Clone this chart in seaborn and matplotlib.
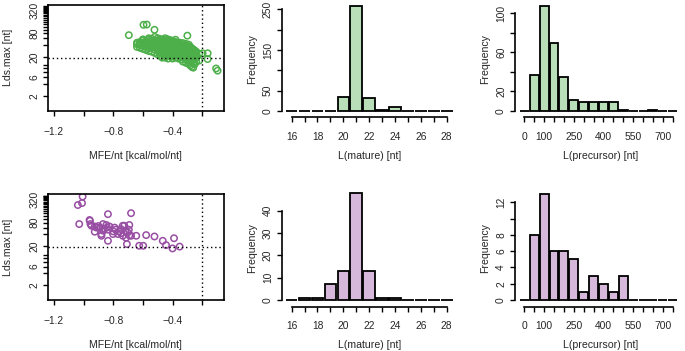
import matplotlib
matplotlib.use("Agg")
import matplotlib.pyplot as plt
import seaborn as sns
from matplotlib.ticker import NullFormatter

# ---- data ----
# histogram bins (bar centres) and counts
mature_len = list(range(16, 29))
mature_top = [0, 0, 0, 0, 34, 259, 33, 2, 9, 0, 0, 0, 0]
mature_bot = [0, 1, 1, 7, 13, 48, 13, 1, 1, 0, 0, 0, 0]
prec_len = list(range(0, 751, 50))
prec_top = [0, 37, 107, 69, 35, 11, 9, 9, 9, 9, 1, 0, 0, 1, 0, 0]
prec_bot = [0, 8, 13, 6, 6, 5, 1, 3, 2, 1, 3, 0, 0, 0, 0, 0]

# green scatter: MFE/nt column -> Lds.max values
green_cols = [
    (-0.64, [42, 36, 46]),
    (-0.62, [40, 48, 34, 44]),
    (-0.60, [38, 52, 45, 32, 56]),
    (-0.58, [42, 36, 50, 30, 47]),
    (-0.56, [40, 55, 33, 46, 28, 60]),
    (-0.54, [44, 38, 50, 27, 35, 58]),
    (-0.52, [42, 48, 31, 25, 53, 37, 65]),
    (-0.50, [40, 46, 34, 23, 52, 29, 60, 43]),
    (-0.49, [38, 44, 50, 26, 33, 55]),
    (-0.48, [41, 35, 47, 21, 30, 57, 39]),
    (-0.47, [44, 37, 32, 52, 24, 48, 19]),
    (-0.46, [40, 34, 46, 28, 55, 22, 43, 36]),
    (-0.45, [42, 38, 31, 49, 25, 60, 35, 19]),
    (-0.44, [39, 45, 33, 27, 51, 21, 36, 42]),
    (-0.43, [41, 35, 30, 47, 24, 56, 38, 18]),
    (-0.42, [37, 43, 32, 28, 50, 22, 39, 34]),
    (-0.41, [40, 34, 29, 46, 25, 53, 20, 36]),
    (-0.40, [38, 44, 31, 27, 48, 23, 35, 18, 41]),
    (-0.39, [36, 42, 30, 26, 50, 21, 33]),
    (-0.38, [39, 33, 28, 45, 24, 19, 36, 55]),
    (-0.37, [35, 41, 30, 26, 47, 22, 32]),
    (-0.36, [37, 31, 27, 43, 23, 18, 34]),
    (-0.35, [34, 40, 29, 25, 46, 20, 31]),
    (-0.34, [36, 30, 26, 42, 22, 17, 33]),
    (-0.33, [32, 38, 28, 24, 45, 19, 15]),
    (-0.32, [34, 29, 25, 40, 21, 31]),
    (-0.31, [30, 36, 26, 22, 43, 18, 14]),
    (-0.30, [32, 27, 24, 38, 20, 16, 70]),
    (-0.29, [29, 34, 25, 21, 41, 17, 13]),
    (-0.28, [30, 26, 22, 36, 19, 15, 12]),
    (-0.27, [28, 24, 33, 20, 16, 11]),
    (-0.26, [27, 23, 31, 18, 14, 10.5]),
    (-0.25, [25, 21, 29, 17, 13]),
    (-0.24, [23, 19, 27, 15]),
]
green_extra_x = [-0.695, -0.596, -0.574, -0.522, -0.22, -0.22, -0.197, -0.163, -0.163, -0.106, -0.096]
green_extra_y = [72, 133, 135, 99, 24, 16, 24.6, 24.6, 17.5, 10, 8.8]

purple_x = [-1.007, -1.011, -1.039, -1.03, -0.958, -0.954, -0.947, -0.925, -0.914, -0.925,
            -0.891, -0.869, -0.869, -0.836, -0.847, -0.843, -0.836, -0.825, -0.880, -0.880,
            -0.836, -0.802, -0.791, -0.785, -0.769, -0.748, -0.736, -0.725, -0.748, -0.736,
            -0.703, -0.692, -0.680, -0.695, -0.714, -0.692, -0.708, -0.645, -0.680, -0.578,
            -0.522, -0.625, -0.598, -0.466, -0.444, -0.40, -0.39, -0.352, -0.96, -0.90,
            -0.86, -0.80, -0.72, -0.76]
purple_y = [377, 256, 228, 74, 90, 74, 67, 64, 60, 47,
            60, 74, 50, 133, 70, 60, 53, 64, 41, 37,
            27.5, 41, 60, 53, 41, 55, 67, 67, 43, 37,
            45, 70, 141, 53, 33, 38, 22.6, 37, 37, 38.5,
            35.5, 20.5, 20.5, 27.5, 21.3, 17.5, 32, 19.5, 94, 66,
            56, 48, 50, 48]

green_x = [c for c, ys in green_cols for _ in ys] + green_extra_x
green_y = [v for c, ys in green_cols for v in ys] + green_extra_y

GREEN = "#4DAF4A"
PURPLE = "#984EA3"
GREEN_FILL = "#B8DFB7"
PURPLE_FILL = "#D6B8DA"

sns.set_style("white")
plt.rcParams['font.family'] = ['Liberation Sans', 'DejaVu Sans']
plt.rcParams['axes.unicode_minus'] = True

W, H = 685, 351
fig = plt.figure(figsize=(W / 100, H / 100), dpi=100)


def px_axes(l, t, r, b):
    return fig.add_axes([l / W, 1 - b / H, (r - l) / W, (b - t) / H])


FS = 7.4


def scatter_panel(ax, x, y, color):
    sns.scatterplot(x=x, y=y, ax=ax, s=21, marker='o', linewidth=1.1, legend=False)
    coll = ax.collections[-1]
    coll.set_facecolor('none')
    coll.set_edgecolor(color)
    ax.set_yscale('log')
    ax.set_xlim(-1.244, -0.056)
    ax.set_ylim(0.83, 430)
    ax.axhline(19, color='black', lw=1.0, ls=(0, (1, 2)))
    ax.axvline(-0.2, color='black', lw=1.0, ls=(0, (1, 2)))
    ax.set_xticks([-1.2, -0.8, -0.4])
    ax.set_xticklabels(['\u22121.2', '\u22120.8', '\u22120.4'])
    ax.set_xticks([-1.0, -0.6, -0.2], minor=True)
    ax.set_yticks([2, 6, 20, 80, 320])
    ax.set_yticklabels(['2', '6', '20', '80', '320'])
    ax.set_yticks([4, 8, 10, 12, 40, 60, 100, 120, 140, 160, 180, 200, 220, 240, 260,
                   280, 300, 340, 360, 380, 400], minor=True)
    ax.yaxis.set_minor_formatter(NullFormatter())
    ax.xaxis.set_minor_formatter(NullFormatter())
    for s in ax.spines.values():
        s.set_linewidth(1.2)
        s.set_color('black')
    ax.tick_params(which='both', direction='out', length=3.6, width=1.0, color='black',
                   labelsize=FS, bottom=True, left=True)
    ax.tick_params(axis='x', pad=8)
    ax.tick_params(axis='y', pad=2, labelrotation=90)
    for lbl in ax.get_yticklabels():
        lbl.set_va('center')
    ax.set_xlabel('MFE/nt [kcal/mol/nt]', fontsize=FS + 0.2, labelpad=10)
    ax.set_ylabel('Lds.max [nt]', fontsize=FS + 0.2, labelpad=12)


def hist_panel(ax, x, counts, color, xlim, ylim, xticks, xlabels, yticks, ylabels,
               xlabel, left_off, bottom_off):
    sns.barplot(x=x, y=counts, native_scale=True, color=color, saturation=1,
                edgecolor='black', linewidth=1.3, width=0.9, errorbar=None, ax=ax)
    ax.set_xlim(*xlim)
    ax.set_ylim(*ylim)
    ax.set_xticks(xticks)
    ax.set_xticklabels(xlabels)
    ax.set_yticks(yticks)
    ax.set_yticklabels(ylabels)
    ax.spines['top'].set_visible(False)
    ax.spines['right'].set_visible(False)
    ax.spines['left'].set_position(('outward', left_off))
    ax.spines['bottom'].set_position(('outward', bottom_off))
    ax.spines['left'].set_bounds(yticks[0], yticks[-1])
    ax.spines['bottom'].set_bounds(xticks[0], xticks[-1])
    for s in ('left', 'bottom'):
        ax.spines[s].set_linewidth(1.2)
        ax.spines[s].set_color('black')
    ax.tick_params(direction='out', length=3.4, width=1.0, color='black', labelsize=FS,
                   bottom=True, left=True)
    ax.tick_params(axis='x', pad=7)
    ax.tick_params(axis='y', pad=3, labelrotation=90)
    for lbl in ax.get_yticklabels():
        lbl.set_va('center')
    ax.set_xlabel(xlabel, fontsize=FS + 0.2, labelpad=6.5)
    ax.set_ylabel('Frequency', fontsize=FS + 0.2, labelpad=4)


ax1 = px_axes(47.5, 5, 223.5, 110.5)
scatter_panel(ax1, green_x, green_y, GREEN)
ax4 = px_axes(47.5, 194.3, 223.5, 300)
scatter_panel(ax4, purple_x, purple_y, PURPLE)

m_ticks = list(range(16, 29))
m_labels = [str(v) if v % 2 == 0 else '' for v in m_ticks]
p_ticks = list(range(0, 751, 50))
p_labels = [str(v) if v in (0, 100, 250, 400, 550, 700) else '' for v in p_ticks]

ax2 = px_axes(283, 3, 456, 115)
hist_panel(ax2, mature_len, mature_top, GREEN_FILL, (15.33, 28.72), (-9.8, 265.4),
           m_ticks, m_labels, [0, 50, 100, 150, 200, 250], ['0', '50', '', '150', '', '250'],
           'L(mature) [nt]', 0.95, 1.65)
ax3 = px_axes(517, 3, 684, 115)
hist_panel(ax3, prec_len, prec_top, GREEN_FILL, (-36.9, 806.9), (-4.08, 110.2),
           p_ticks, p_labels, [0, 20, 40, 60, 80, 100], ['0', '20', '', '60', '', '100'],
           'L(precursor) [nt]', 1.45, 1.65)
ax5 = px_axes(283, 192, 456, 304)
hist_panel(ax5, mature_len, mature_bot, PURPLE_FILL, (15.33, 28.72), (-1.79, 48.4),
           m_ticks, m_labels, [0, 10, 20, 30, 40], ['0', '10', '20', '30', '40'],
           'L(mature) [nt]', 0.95, 1.9)
ax6 = px_axes(517, 192, 684, 304)
hist_panel(ax6, prec_len, prec_bot, PURPLE_FILL, (-36.9, 806.9), (-0.49, 13.27),
           p_ticks, p_labels, [0, 2, 4, 6, 8, 10, 12], ['0', '2', '4', '6', '8', '', '12'],
           'L(precursor) [nt]', 1.45, 1.9)

fig.savefig('out.png', dpi=100)
